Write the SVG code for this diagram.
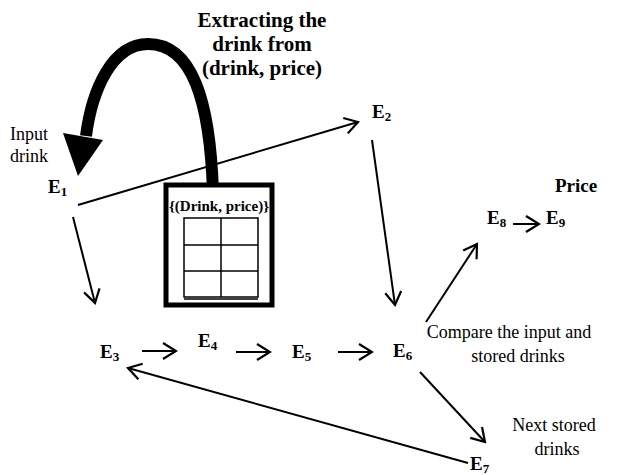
<svg xmlns="http://www.w3.org/2000/svg" width="622" height="475" viewBox="0 0 622 475">
<defs>
<style>
text{font-family:"Liberation Serif","Times New Roman",serif;fill:#000}
.b{font-weight:bold;font-size:19px}
.t{font-weight:bold;font-size:21px}
.n{font-size:18px}
.s{font-size:13px}
.c{fill:none;stroke:#000;stroke-width:2;marker-end:url(#ah)}
.g{fill:none;stroke:#000;stroke-width:1.5}
</style>
<marker id="ah" markerWidth="16" markerHeight="20" refX="0" refY="0" viewBox="-14 -10 16 20" orient="auto" markerUnits="userSpaceOnUse"><path d="M-13,-8 L0,0 L-13,8" fill="none" stroke="#000" stroke-width="2.2"/></marker>
</defs>
<rect width="622" height="475" fill="#fff"/>
<g id="title">
<text class="t" text-anchor="middle" x="262" y="27">Extracting the</text>
<text class="t" text-anchor="middle" x="262" y="51">drink from</text>
<text class="t" text-anchor="middle" x="262" y="75">(drink, price)</text>
</g>
<g id="extract-arrow">
<path d="M213 192 C210 100 192 44 148 44 C112 44 92 90 86 136" fill="none" stroke="#000" stroke-width="12"/>
<polygon points="63,133 103,140 78,176" fill="#000"/>
</g>
<g id="store">
<rect x="166" y="185" width="106" height="120" fill="#fff" stroke="#000" stroke-width="5"/>
<text class="b" style="font-size:15px" text-anchor="middle" x="219" y="211">{(Drink, price)}</text>
<rect x="184" y="218" width="74" height="79" class="g"/>
<line x1="221" y1="218" x2="221" y2="297" class="g"/>
<line x1="184" y1="245" x2="258" y2="245" class="g"/>
<line x1="184" y1="271" x2="258" y2="271" class="g"/>
<line x1="184" y1="299" x2="258" y2="299" class="g"/>
</g>
<g id="input-label"><text class="n" x="10" y="140">Input</text><text class="n" x="10" y="162">drink</text></g>
<g id="E1"><text class="b" x="48" y="193">E<tspan class="s" dy="3">1</tspan></text></g>
<g id="E2"><text class="b" x="372" y="118">E<tspan class="s" dy="3">2</tspan></text></g>
<g id="E3"><text class="b" x="100" y="358">E<tspan class="s" dy="3">3</tspan></text></g>
<g id="E4"><text class="b" x="198" y="347">E<tspan class="s" dy="3">4</tspan></text></g>
<g id="E5"><text class="b" x="292" y="358">E<tspan class="s" dy="3">5</tspan></text></g>
<g id="E6"><text class="b" x="393" y="357">E<tspan class="s" dy="3">6</tspan></text></g>
<g id="E7"><text class="b" x="470" y="470">E<tspan class="s" dy="3">7</tspan></text></g>
<g id="E8"><text class="b" x="487" y="224">E<tspan class="s" dy="3">8</tspan></text></g>
<g id="E9"><text class="b" x="546" y="224">E<tspan class="s" dy="3">9</tspan></text><text class="b" x="555" y="192">Price</text></g>
<g id="compare-label"><text class="n" text-anchor="middle" x="509" y="338">Compare the input and</text><text class="n" text-anchor="middle" x="518" y="362">stored drinks</text></g>
<g id="next-label"><text class="n" text-anchor="middle" x="554" y="431">Next stored</text><text class="n" text-anchor="middle" x="557" y="455">drinks</text></g>
<g id="connectors">
<path class="c" d="M78 205 L358 122"/>
<path class="c" d="M372 140 L395 305"/>
<path class="c" d="M73 217 L95 303"/>
<path class="c" d="M142 351 L176 351"/>
<path class="c" d="M236 352 L270 352"/>
<path class="c" d="M338 352 L372 352"/>
<path class="c" d="M426 322 L477 244"/>
<path class="c" d="M513 224 L539 224"/>
<path class="c" d="M420 372 L485 442"/>
<path class="c" d="M468 463 L128 368"/>
</g>
</svg>
